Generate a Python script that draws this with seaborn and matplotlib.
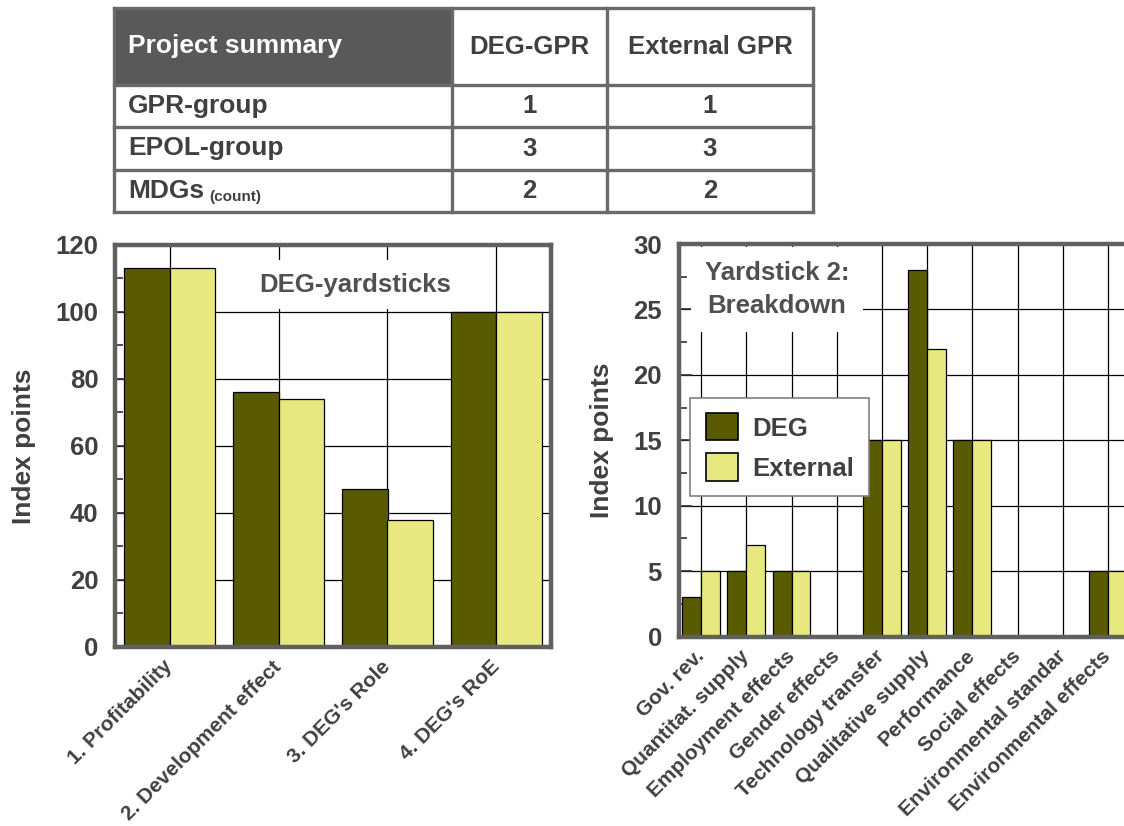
import matplotlib
matplotlib.use("Agg")
import matplotlib.pyplot as plt
import seaborn as sns
import pandas as pd
from matplotlib.patches import Rectangle
from matplotlib.ticker import MultipleLocator

# ---- data -------------------------------------------------------------
series = ["DEG", "External"]
series_colors = ["#5a5a00", "#e8e880"]

yardsticks = ["1. Profitability", "2. Development effect", "3. DEG's Role", "4. DEG's RoE"]
yard_deg = [113, 76, 47, 100]
yard_ext = [113, 74, 38, 100]

breakdown = ["Gov. rev.", "Quantitat. supply", "Employment effects", "Gender effects",
             "Technology transfer", "Qualitative supply", "Performance", "Social effects",
             "Environmental standar", "Environmental effects"]
break_deg = [3, 5, 5, 0, 15, 28, 15, 0, 0, 5]
break_ext = [5, 7, 5, 0, 15, 22, 15, 0, 0, 5]

table_header = ["Project summary", "DEG-GPR", "External GPR"]
table_rows = ["GPR-group", "EPOL-group", "MDGs"]
table_deg = [1, 3, 2]
table_ext = [1, 3, 2]

# ---- style ------------------------------------------------------------
sns.set_theme(style="white")
plt.rcParams["font.family"] = ["Liberation Sans", "DejaVu Sans"]
plt.rcParams["font.weight"] = "bold"
TXT = "#404040"
SPINE = "#606060"

W, H = 1124, 826
fig = plt.figure(figsize=(W / 100, H / 100), dpi=100)


def long_frame(cats, deg, ext):
    return pd.DataFrame({
        "category": list(cats) * 2,
        "series": [series[0]] * len(cats) + [series[1]] * len(cats),
        "value": list(deg) + list(ext),
    })


def style_axes(ax, ymax, major, minor):
    ax.set_ylim(0, ymax)
    ax.set_xlim(-0.5, len(ax.get_xticks()) - 0.5)
    ax.yaxis.set_major_locator(MultipleLocator(major))
    ax.yaxis.set_minor_locator(MultipleLocator(minor))
    ax.grid(True, which="major", color="black", linewidth=0.9)
    ax.set_axisbelow(True)
    for s in ax.spines.values():
        s.set_visible(True)
        s.set_linewidth(3.2)
        s.set_color(SPINE)
        s.set_zorder(5)
    ax.tick_params(axis="y", which="major", direction="in", length=9, width=1.2,
                   color="#303030", labelsize=18.5, labelcolor=TXT, pad=12, left=True)
    ax.tick_params(axis="y", which="minor", direction="in", length=6, width=1.2,
                   color="#303030", left=True)
    ax.tick_params(axis="x", length=0, labelsize=15, labelcolor=TXT, pad=12)
    for lab in ax.get_yticklabels():
        lab.set_fontweight("bold")
    for lab in ax.get_xticklabels():
        lab.set_rotation(45)
        lab.set_ha("right")
        lab.set_va("center")
        lab.set_rotation_mode("anchor")
        lab.set_fontweight("bold")
    ax.set_xlabel("")
    ax.set_ylabel("Index points", fontsize=19, fontweight="bold", color=TXT, labelpad=14)


# ---- left chart: DEG yardsticks -----------------------------------------
ax1 = fig.add_axes([115 / W, 1 - 647 / H, 436 / W, 402.5 / H])
sns.barplot(data=long_frame(yardsticks, yard_deg, yard_ext), x="category", y="value",
            hue="series", palette=series_colors, saturation=1, width=0.83,
            edgecolor="black", linewidth=0.9, legend=False, ax=ax1)
style_axes(ax1, 120, 20, 10)
ax1.text(0.552, 0.9, "DEG-yardsticks", transform=ax1.transAxes, ha="center", va="center",
         fontsize=18.5, fontweight="bold", color="#505050",
         bbox=dict(facecolor="white", edgecolor="none", pad=9), zorder=4)

# ---- right chart: yardstick 2 breakdown --------------------------------
ax2 = fig.add_axes([678.5 / W, 1 - 636.5 / H, 452 / W, 392.5 / H])
sns.barplot(data=long_frame(breakdown, break_deg, break_ext), x="category", y="value",
            hue="series", palette=series_colors, saturation=1, width=0.84,
            edgecolor="black", linewidth=0.9, ax=ax2)
style_axes(ax2, 30, 5, 2.5)
ax2.text(0.218, 0.884, "Yardstick 2:\nBreakdown", transform=ax2.transAxes, ha="center",
         va="center", multialignment="center", fontsize=18.5, fontweight="bold",
         color="#505050", linespacing=1.45,
         bbox=dict(facecolor="white", edgecolor="none", pad=10), zorder=4)
leg = ax2.legend(loc="upper left", bbox_to_anchor=(0.026, 0.608), borderaxespad=0,
                 frameon=True, fancybox=False, framealpha=1, edgecolor="#808080",
                 prop=dict(size=18.5, weight="bold"), handlelength=1.25, handleheight=1.25,
                 handletextpad=0.55, labelspacing=0.5, borderpad=0.6)
leg.get_frame().set_linewidth(1.2)
for t in leg.get_texts():
    t.set_color(TXT)
for h in leg.legend_handles:
    h.set_edgecolor("black")
    h.set_linewidth(1.2)

# ---- project summary table -------------------------------------------
tab = fig.add_axes([0, 0, 1, 1], zorder=-1)
tab.set_xlim(0, W)
tab.set_ylim(H, 0)
tab.axis("off")
col_x = [114, 452, 607, 813]
row_y = [8, 85, 127, 170, 212]
tab.add_patch(Rectangle((col_x[0], row_y[0]), col_x[1] - col_x[0], row_y[1] - row_y[0],
                        facecolor="#595959", edgecolor="none"))
for y in row_y:
    tab.plot([col_x[0], col_x[-1]], [y, y], color="#6a6a6a", lw=2.4, solid_capstyle="projecting")
for x in col_x:
    tab.plot([x, x], [row_y[0], row_y[-1]], color="#6a6a6a", lw=2.4, solid_capstyle="projecting")

hy = (row_y[0] + row_y[1]) / 2
tab.text(col_x[0] + 14, hy, table_header[0], ha="left", va="center", fontsize=19,
         fontweight="bold", color="white")
for j, name in enumerate(table_header[1:], start=1):
    tab.text((col_x[j] + col_x[j + 1]) / 2, hy, name, ha="center", va="center",
             fontsize=18.5, fontweight="bold", color=TXT)
for i, name in enumerate(table_rows):
    cy = (row_y[i + 1] + row_y[i + 2]) / 2
    t = tab.text(col_x[0] + 14, cy, name, ha="left", va="center", fontsize=19,
                 fontweight="bold", color=TXT)
    if name == "MDGs":
        tab.annotate("(count)", xy=(1, 0), xycoords=t, xytext=(4, -1),
                     textcoords="offset points", ha="left", va="bottom",
                     fontsize=11, fontweight="bold", color=TXT)
    for j, vals in enumerate([table_deg, table_ext], start=1):
        tab.text((col_x[j] + col_x[j + 1]) / 2, cy, str(vals[i]), ha="center",
                 va="center", fontsize=18.5, fontweight="bold", color=TXT)

fig.savefig("out.png", dpi=100)
